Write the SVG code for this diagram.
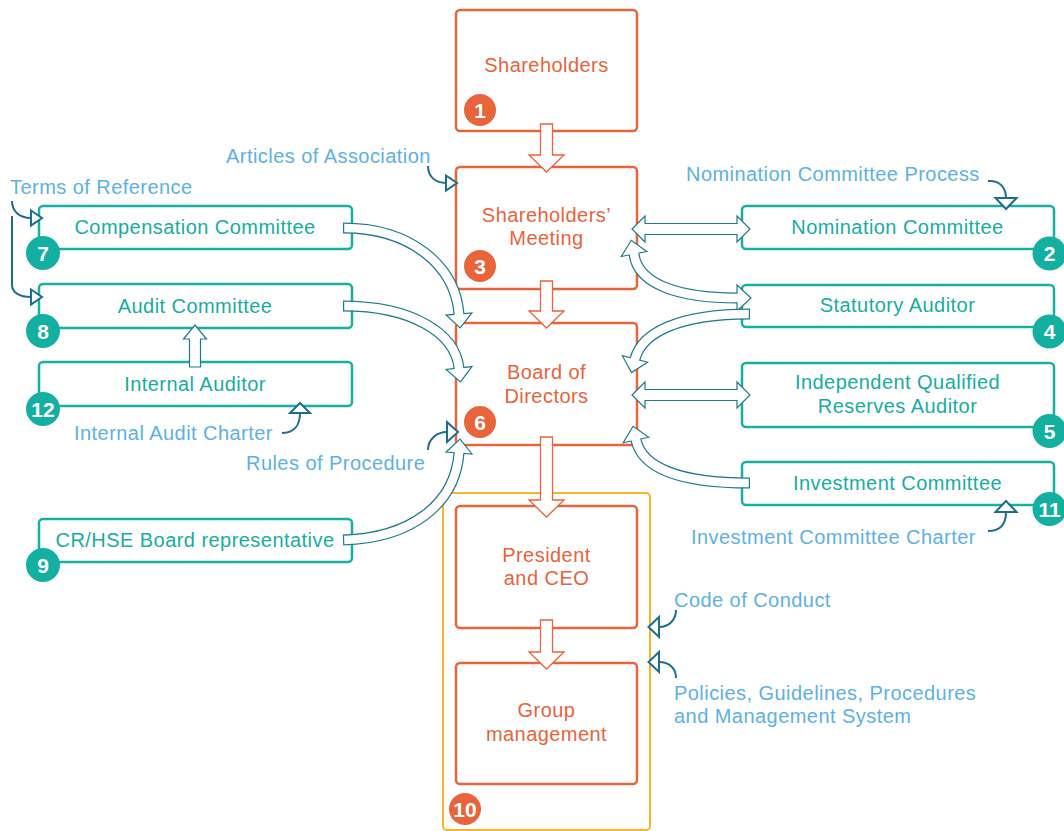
<svg xmlns="http://www.w3.org/2000/svg" width="1064" height="831" viewBox="0 0 1064 831">
<style>
text{font-family:"Liberation Sans",Arial,sans-serif;font-size:20px;letter-spacing:0.45px}
.ob{fill:#fff;stroke:#E9633B;stroke-width:2.5}
.tb{fill:#fff;stroke:#17B1A3;stroke-width:2.5}
.ot{fill:#E9633B;text-anchor:middle}
.tt{fill:#17ADA0;text-anchor:middle}
.lb{fill:#5DB1E4}
.obd{fill:#E9633B}
.tbd{fill:#13B0A2}
.num{fill:#fff;font-weight:bold;font-size:21px;text-anchor:middle;letter-spacing:0}
.oa{fill:#fff;stroke:#E9633B;stroke-width:1.3;stroke-linejoin:miter}
.fo{fill:none;stroke:#217A8B;stroke-width:11}
.fi{fill:none;stroke:#fff;stroke-width:8.6}
.hd{fill:#fff;stroke:#217A8B;stroke-width:1.2}
.hk{fill:none;stroke:#1E6D8E;stroke-width:2}
.hh{fill:#fff;stroke:#1E6D8E;stroke-width:2}
</style>

<g id="group10">
<rect x="443" y="493" width="207" height="337" rx="4" fill="#fff" stroke="#F6B52B" stroke-width="2"/>
<circle class="obd" cx="465" cy="809" r="16"/><text class="num" x="465" y="816.5" letter-spacing="-1">10</text>
</g>

<g id="shareholders">
<rect class="ob" x="456" y="10" width="181" height="121" rx="4"/>
<text class="ot" x="546.5" y="72">Shareholders</text>
<circle class="obd" cx="480" cy="110" r="16"/><text class="num" x="480" y="117.5">1</text>
</g>
<g id="shareholders-meeting">
<rect class="ob" x="456" y="167" width="181" height="122" rx="4"/>
<text class="ot" x="546.5" y="221.5">Shareholders’</text>
<text class="ot" x="546.5" y="245">Meeting</text>
<circle class="obd" cx="480" cy="266" r="16"/><text class="num" x="480" y="273.5">3</text>
</g>
<g id="board">
<rect class="ob" x="456" y="323" width="181" height="122" rx="4"/>
<text class="ot" x="546.5" y="379">Board of</text>
<text class="ot" x="546.5" y="403">Directors</text>
<circle class="obd" cx="480" cy="422" r="16"/><text class="num" x="480" y="429.5">6</text>
</g>
<g id="president">
<rect class="ob" x="456" y="506" width="181" height="122" rx="4"/>
<text class="ot" x="546.5" y="561.5">President</text>
<text class="ot" x="546.5" y="585">and CEO</text>
</g>
<g id="group-management">
<rect class="ob" x="456" y="663" width="181" height="121" rx="4"/>
<text class="ot" x="546.5" y="717">Group</text>
<text class="ot" x="546.5" y="740.5">management</text>
</g>

<g id="compensation">
<rect class="tb" x="39" y="206" width="313" height="43" rx="4"/>
<text class="tt" x="195" y="234">Compensation Committee</text>
<circle class="tbd" cx="43" cy="253" r="17"/><text class="num" x="43" y="260.5">7</text>
</g>
<g id="audit">
<rect class="tb" x="39" y="284" width="313" height="44" rx="4"/>
<text class="tt" x="195" y="313">Audit Committee</text>
<circle class="tbd" cx="43" cy="331" r="17"/><text class="num" x="43" y="338.5">8</text>
</g>
<g id="internal-auditor">
<rect class="tb" x="39" y="362" width="313" height="44" rx="4"/>
<text class="tt" x="195" y="391">Internal Auditor</text>
<circle class="tbd" cx="43" cy="409" r="17"/><text class="num" x="43" y="416.5" letter-spacing="-1">12</text>
</g>
<g id="crhse">
<rect class="tb" x="39" y="519" width="313" height="43" rx="4"/>
<text class="tt" x="195" y="547">CR/HSE Board representative</text>
<circle class="tbd" cx="43" cy="565" r="17"/><text class="num" x="43" y="572.5">9</text>
</g>
<g id="nomination">
<rect class="tb" x="742" y="206" width="312" height="43" rx="4"/>
<text class="tt" x="897.5" y="234">Nomination Committee</text>
<circle class="tbd" cx="1049.5" cy="253.5" r="17"/><text class="num" x="1049.5" y="261">2</text>
</g>
<g id="statutory">
<rect class="tb" x="742" y="285" width="312" height="42" rx="4"/>
<text class="tt" x="897.5" y="312">Statutory Auditor</text>
<circle class="tbd" cx="1049.5" cy="331.5" r="17"/><text class="num" x="1049.5" y="339">4</text>
</g>
<g id="iqra">
<rect class="tb" x="742" y="363" width="312" height="64" rx="4"/>
<text class="tt" x="897.5" y="389">Independent Qualified</text>
<text class="tt" x="897.5" y="412.5">Reserves Auditor</text>
<circle class="tbd" cx="1049.5" cy="431" r="17"/><text class="num" x="1049.5" y="438.5">5</text>
</g>
<g id="investment">
<rect class="tb" x="742" y="462" width="312" height="43" rx="4"/>
<text class="tt" x="897.5" y="490">Investment Committee</text>
<circle class="tbd" cx="1049.5" cy="509" r="17"/><text class="num" x="1049.5" y="516.5" letter-spacing="-1">11</text>
</g>

<g id="labels">
<text class="lb" x="226" y="163">Articles of Association</text>
<text class="lb" x="10" y="194">Terms of Reference</text>
<text class="lb" x="686" y="181">Nomination Committee Process</text>
<text class="lb" x="74" y="440">Internal Audit Charter</text>
<text class="lb" x="246" y="470">Rules of Procedure</text>
<text class="lb" x="691" y="544">Investment Committee Charter</text>
<text class="lb" x="674" y="607">Code of Conduct</text>
<text class="lb" x="674" y="699.5">Policies, Guidelines, Procedures</text>
<text class="lb" x="674" y="723">and Management System</text>
</g>

<g id="connectors">
<!-- orange down arrows -->
<polygon class="oa" points="540.5,124 552.5,124 552.5,155 564,155 546.5,172 529,155 540.5,155"/>
<polygon class="oa" points="540.5,281 552.5,281 552.5,311 564,311 546.5,328 529,311 540.5,311"/>
<polygon class="oa" points="540.5,437 552.5,437 552.5,500 564,500 546.5,517 529,500 540.5,500"/>
<polygon class="oa" points="540.5,620 552.5,620 552.5,652 564,652 546.5,669 529,652 540.5,652"/>

<!-- straight double arrows -->
<polygon class="hd" points="632,229 645,216 645,223.5 737,223.5 737,216 750,229 737,242 737,234.5 645,234.5 645,242"/>
<polygon class="hd" points="632,395 645,382 645,389.5 737,389.5 737,382 750,395 737,408 737,400.5 645,400.5 645,408"/>

<!-- internal auditor up arrow -->
<polygon class="hd" points="189.5,367 200.5,367 200.5,339 206.5,339 195,325 183.5,339 189.5,339"/>

<!-- compensation -> board -->
<path class="fo" d="M343,228 C410,228 455,265 459,314"/>
<polygon class="hd" points="471.96,312.94 460.14,327.95 446.04,315.06"/>
<path class="fi" d="M344.2,228 C410,228 455,265 459,314 l0.12,1.5"/>

<!-- audit -> board -->
<path class="fo" d="M343,306 C410,306 455,332 459,368"/>
<polygon class="hd" points="471.9,366.6 460.5,381.9 446.1,369.4"/>
<path class="fi" d="M344.2,306 C410,306 455,332 459,368 l0.16,1.5"/>

<!-- crhse -> board -->
<path class="fo" d="M343,540 C410,538 455,505 459,453"/>
<polygon class="hd" points="471.96,454 460.07,439.04 446.04,452"/>
<path class="fi" d="M344.2,540 C410,538 455,505 459,453 l0.12,-1.5"/>

<!-- statutory <-> shareholders' meeting -->
<path class="fo" d="M634,254 C638,285 680,298 737,298"/>
<polygon class="hd" points="646.77,251.53 631.34,240.26 621.23,256.47"/>
<polygon class="hd" points="737,285 751,298 737,311"/>
<path class="fi" d="M633.7,252.5 L634,254 C638,285 680,298 737,298 L738.5,298"/>

<!-- statutory -> board -->
<path class="fo" d="M750,314 C680,314 642,332 635,359"/>
<polygon class="hd" points="647.58,362.26 631.5,372.55 622.42,355.74"/>
<path class="fi" d="M748.8,314 C680,314 642,332 635,359 l-0.38,1.45"/>

<!-- investment -> board -->
<path class="fo" d="M750,483 C680,483 642,468 636,440"/>
<polygon class="hd" points="648.71,437.28 633.07,426.31 623.29,442.72"/>
<path class="fi" d="M748.8,483 C680,483 642,468 636,440 l-0.31,-1.47"/>

<!-- document hooks -->
<path class="hk" d="M428,166 C428,177 436,183 446,183"/>
<polygon class="hh" points="446,175.5 457,183 446,190.5"/>
<path class="hk" d="M12,201 C12,211 19,218 31,218"/>
<polygon class="hh" points="31,210.5 42,218 31,225.5"/>
<path class="hk" d="M12,216 L12,285 C12,292 19,297 31,297"/>
<polygon class="hh" points="31,289.5 42,297 31,304.5"/>
<path class="hk" d="M988,181 C1000,180 1006,188 1006,198"/>
<polygon class="hh" points="995.5,198 1016.5,198 1006,209"/>
<path class="hk" d="M282,433 C295,433 300,424 300,413"/>
<polygon class="hh" points="290,413 310,413 300,403"/>
<path class="hk" d="M428,450 C428,440 436,432 447,432"/>
<polygon class="hh" points="447,422 458,432 447,442"/>
<path class="hk" d="M988,531 C1000,531 1006,524 1006,512"/>
<polygon class="hh" points="995.5,512 1016.5,512 1006,501"/>
<path class="hk" d="M676,610 C676,620 669,627 659,627"/>
<polygon class="hh" points="659,617 648.5,627 659,637"/>
<path class="hk" d="M676,678 C676,668 669,662 659,662"/>
<polygon class="hh" points="659,652 648.5,662 659,672"/>
</g>
</svg>
